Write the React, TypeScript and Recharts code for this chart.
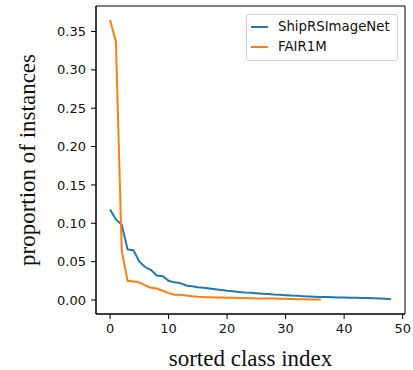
import React from "react";
import { LineChart, Line, XAxis, YAxis, CartesianGrid } from "recharts";

// proportion of instances per class, sorted descending
const SHIP_VALUES = [
  0.118, 0.105, 0.098, 0.066, 0.065, 0.05, 0.043, 0.039, 0.032, 0.031,
  0.025, 0.023, 0.022, 0.019, 0.018, 0.0165, 0.016, 0.015, 0.014, 0.013,
  0.012, 0.0115, 0.0105, 0.0098, 0.0093, 0.0088, 0.0083, 0.0078, 0.0072,
  0.0068, 0.0063, 0.0058, 0.0055, 0.005, 0.0046, 0.0043, 0.004, 0.0038,
  0.0036, 0.0034, 0.0032, 0.003, 0.0028, 0.0027, 0.0026, 0.0024, 0.002,
  0.0015, 0.001,
];

const FAIR_VALUES = [
  0.365, 0.337, 0.064, 0.025, 0.024, 0.023, 0.019, 0.016, 0.015, 0.012,
  0.009, 0.007, 0.0068, 0.006, 0.005, 0.0042, 0.0038, 0.0036, 0.0034,
  0.0032, 0.003, 0.0028, 0.0026, 0.0025, 0.0023, 0.0021, 0.002, 0.0019,
  0.0018, 0.0016, 0.0015, 0.0013, 0.0011, 0.0009, 0.0007, 0.0006, 0.0005,
];

const X_TICKS = [0, 10, 20, 30, 40, 50];
const Y_TICKS = [0, 0.05, 0.1, 0.15, 0.2, 0.25, 0.3, 0.35];

const SERIES = [
  { name: "ShipRSImageNet", color: "#1f77b4", values: SHIP_VALUES },
  { name: "FAIR1M", color: "#ff7f0e", values: FAIR_VALUES },
];

const X_DOMAIN: [number, number] = [-2.4, 50.4];
const Y_DOMAIN: [number, number] = [-0.01825, 0.38325];

const TICK_STYLE = { fontFamily: "DejaVu Sans", fontSize: 13, fill: "#111" };
const LABEL_FONT = "Liberation Serif, Times New Roman, serif";

const LegendBox = () => (
  <div
    style={{
      position: "absolute",
      left: "246px",
      top: "14px",
      width: "152px",
      boxSizing: "border-box",
      border: "1px solid #d0d0d0",
      borderRadius: "3px",
      background: "rgba(255,255,255,0.8)",
      padding: "2px 6px 3px 4px",
      fontFamily: "DejaVu Sans",
      fontSize: "13.3px",
      color: "#111",
      lineHeight: "20px",
    }}
  >
    {SERIES.map((s) => (
      <div key={s.name} style={{ display: "flex", alignItems: "center" }}>
        <span
          style={{
            display: "inline-block",
            width: "17px",
            height: "2px",
            background: s.color,
            marginRight: "10px",
          }}
        />
        {s.name}
      </div>
    ))}
  </div>
);

const YLabel = ({ viewBox }: any) => {
  const cx = viewBox.x - 9;
  const cy = viewBox.y + viewBox.height / 2;
  return (
    <text
      x={cx}
      y={cy}
      transform={`rotate(-90, ${cx}, ${cy})`}
      textAnchor="middle"
      dominantBaseline="central"
      style={{ fontFamily: LABEL_FONT, fontSize: 23, fill: "#111" }}
    >
      proportion of instances
    </text>
  );
};

const XLabel = ({ viewBox }: any) => (
  <text
    x={viewBox.x + viewBox.width / 2}
    y={viewBox.y + 52}
    textAnchor="middle"
    style={{ fontFamily: LABEL_FONT, fontSize: 23, fill: "#111" }}
  >
    sorted class index
  </text>
);

// frame around the plot area (matplotlib-style spines)
const frameH = ({ offset }: any) => [offset.top, offset.top + offset.height];
const frameV = ({ offset }: any) => [offset.left, offset.left + offset.width];

export default function App() {
  return (
    <div style={{ position: "absolute", left: 0, top: 0, width: 413, height: 370, background: "#fff" }}>
      <LineChart
        width={413}
        height={370}
        margin={{ top: 6, right: 8, bottom: 26, left: 36 }}
      >
        <CartesianGrid
          stroke="#000"
          strokeWidth={1}
          horizontalCoordinatesGenerator={frameH}
          verticalCoordinatesGenerator={frameV}
        />
        <XAxis
          dataKey="idx"
          type="number"
          domain={X_DOMAIN}
          ticks={X_TICKS}
          allowDataOverflow
          height={30}
          tickSize={5}
          tickMargin={5}
          tick={TICK_STYLE}
          axisLine={{ stroke: "#000" }}
          tickLine={{ stroke: "#000" }}
          label={<XLabel />}
        />
        <YAxis
          type="number"
          domain={Y_DOMAIN}
          ticks={Y_TICKS}
          allowDataOverflow
          width={60}
          tickSize={5}
          tickMargin={5}
          tick={TICK_STYLE}
          tickFormatter={(v: number) => v.toFixed(2)}
          axisLine={{ stroke: "#000" }}
          tickLine={{ stroke: "#000" }}
          label={<YLabel />}
        />
        {SERIES.map((s) => (
          <Line
            key={s.name}
            data={s.values.map((v, i) => ({ idx: i, value: v }))}
            dataKey="value"
            name={s.name}
            stroke={s.color}
            strokeWidth={2}
            dot={false}
            type="linear"
            isAnimationActive={false}
          />
        ))}
      </LineChart>
      <LegendBox />
    </div>
  );
}
